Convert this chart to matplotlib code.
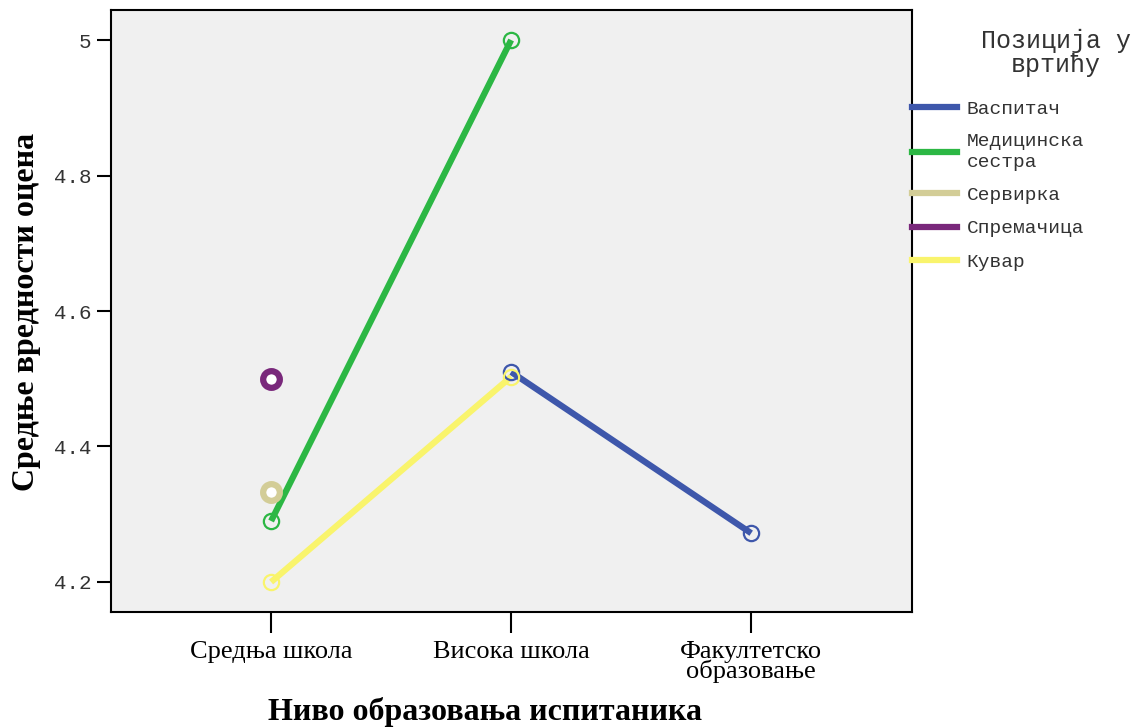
import numpy as np
import matplotlib.pyplot as plt
from matplotlib.lines import Line2D

# категорије на x-оси
nivoi = ['Средња школа', 'Висока школа', 'Факултетско\nобразовање']

# средње вредности по позицији (None = нема податка)
vaspitac = [None, 4.51, 4.272]
med_sestra = [4.29, 5.0, None]
servirka = [4.333, None, None]
spremacica = [4.5, None, None]
kuvar = [4.2, 4.503, None]

serije = ['Васпитач', 'Медицинска\nсестра', 'Сервирка', 'Спремачица', 'Кувар']
podaci = [vaspitac, med_sestra, servirka, spremacica, kuvar]
boje = ['#3e57ab', '#2cb744', '#d3cd97', '#79287b', '#f9f46c']

fig = plt.figure(figsize=(11.38, 7.28), dpi=100)
ax = fig.add_axes([111/1138, 1 - 612/728, (912-111)/1138, (612-10)/728])
ax.set_facecolor('#f0f0f0')

x = np.arange(len(nivoi))
for ime, vr, boja in zip(serije, podaci, boje):
    xs = [xi for xi, v in zip(x, vr) if v is not None]
    ys = [v for v in vr if v is not None]
    if len(xs) > 1:
        ax.plot(xs, ys, color=boja, lw=4.5, solid_capstyle='butt', zorder=2)
        ax.plot(xs, ys, 'o', ms=11, mfc='none', mec=boja, mew=1.6, zorder=3)
    else:
        ax.plot(xs, ys, 'o', ms=12, mfc='white', mec=boja, mew=4.5, zorder=3)

ax.set_xlim(-0.667, 2.67)
ax.set_ylim(4.1557, 5.0443)
ax.set_xticks(x)
ax.set_xticklabels(nivoi, fontfamily='Liberation Serif', fontsize=19, linespacing=0.8)
for t in ax.get_xticklabels():
    t.set_x(t.get_position()[0])
ax.set_yticks([4.2, 4.4, 4.6, 4.8, 5.0])
ax.set_yticklabels(['4.2', '4.4', '4.6', '4.8', '5'], fontfamily='Liberation Mono',
                   fontsize=15, color='#333333')
ax.tick_params(axis='x', length=15, width=1.5, pad=6)
ax.tick_params(axis='y', length=10, width=1.5, pad=4)
for s in ax.spines.values():
    s.set_linewidth(1.5)

ax.set_xlabel('Ниво образовања испитаника', fontfamily='Liberation Serif',
              fontsize=23, fontweight='bold', va='center')
ax.xaxis.set_label_coords(0.4675, -(712-612)/602)
ax.set_ylabel('Средње вредности оцена', fontfamily='Liberation Serif',
              fontsize=23, fontweight='bold', va='center')
ax.yaxis.set_label_coords(-(111-27)/801, (612-312)/602)

rucke = [Line2D([0], [0], color=b, lw=4.5) for b in boje]
leg = ax.legend(rucke, serije, loc='upper left', bbox_to_anchor=(1.0, (612-100)/602),
                frameon=False, prop={'family': 'Liberation Mono', 'size': 14},
                handlelength=2.3, handletextpad=0.5, borderaxespad=0,
                borderpad=0, labelspacing=0.8)
for t in leg.get_texts():
    t.set_color('#333333')
    t.set_linespacing(1.3)

fig.text(1056/1138, 1 - 53/728, 'Позиција у\nвртићу', ha='center', va='center',
         family='Liberation Mono', fontsize=18, linespacing=1.0, color='#333333')

fig.savefig('out.png', dpi=100)
